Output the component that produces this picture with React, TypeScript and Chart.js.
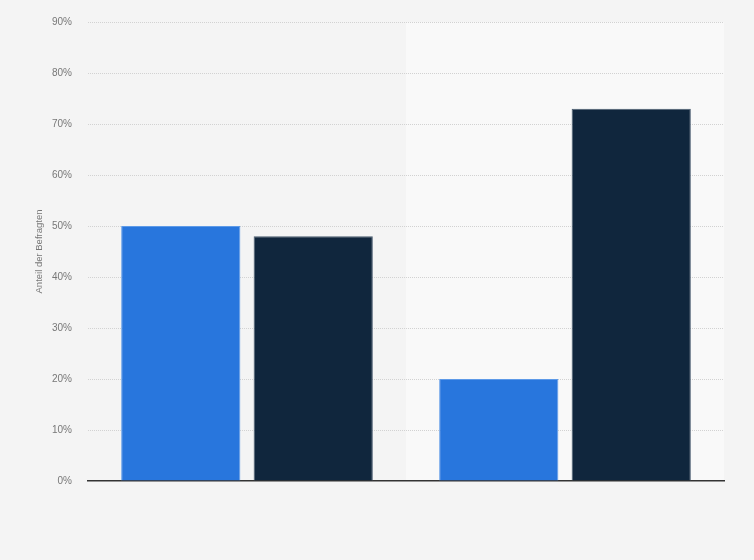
import { useEffect, useRef } from 'react';
import { Chart, ChartConfiguration, Plugin, registerables } from 'chart.js';

Chart.register(...registerables);

// Chart data
const categories = ['Gruppe A', 'Gruppe B'];
const seriesOne = [50, 20];
const seriesTwo = [48, 73];
const yTicks = [0, 10, 20, 30, 40, 50, 60, 70, 80, 90];

const FONT = '"Liberation Sans", Arial, sans-serif';

// page background + lighter band for the second category
const backgroundBands: Plugin<'bar'> = {
  id: 'backgroundBands',
  beforeDraw(chart) {
    const { ctx, chartArea, scales } = chart;
    ctx.save();
    ctx.fillStyle = '#f4f4f4';
    ctx.fillRect(0, 0, chart.width, chart.height);
    const x = scales.x;
    const mid = (x.getPixelForValue(0) + x.getPixelForValue(1)) / 2;
    ctx.fillStyle = '#f9f9f9';
    ctx.fillRect(mid, chartArea.top, chartArea.right - mid, chartArea.bottom - chartArea.top);
    ctx.restore();
  },
};

export default function App() {
  const canvasRef = useRef<HTMLCanvasElement>(null);
  const chartRef = useRef<Chart | null>(null);

  useEffect(() => {
    document.body.style.margin = '0';
    if (!canvasRef.current) return;
    if (chartRef.current) chartRef.current.destroy();

    const config: ChartConfiguration<'bar'> = {
      type: 'bar',
      data: {
        labels: categories,
        datasets: [
          {
            label: 'Serie 1',
            data: seriesOne,
            backgroundColor: '#2876dd',
            borderColor: '#5d9ae8',
            borderWidth: 1,
            categoryPercentage: 0.833,
            barPercentage: 0.9,
          },
          {
            label: 'Serie 2',
            data: seriesTwo,
            backgroundColor: '#10263d',
            borderColor: '#4a5c70',
            borderWidth: 1,
            categoryPercentage: 0.833,
            barPercentage: 0.9,
          },
        ],
      },
      options: {
        responsive: false,
        animation: false,
        layout: { padding: { left: 34, right: 30, top: 20, bottom: 79 } },
        plugins: {
          legend: { display: false },
          tooltip: { enabled: false },
        },
        scales: {
          x: {
            ticks: { display: false },
            grid: { display: false, drawTicks: false },
            border: { display: true, color: '#333333', width: 1.5 },
          },
          y: {
            min: 0,
            max: 90,
            afterBuildTicks(scale) {
              scale.ticks = yTicks.map((v) => ({ value: v }));
            },
            afterFit(scale) {
              scale.width = 54;
            },
            ticks: {
              padding: 16,
              color: '#777777',
              font: { family: FONT, size: 10 },
              callback: (v) => `${v}%`,
            },
            grid: {
              color: (c) => (c.tick && c.tick.value === 0 ? 'rgba(0,0,0,0)' : '#d2d2d2'),
              drawTicks: false,
              lineWidth: 1,
            },
            border: { display: false, dash: [1, 1] },
            title: {
              display: true,
              text: 'Anteil der Befragten',
              color: '#777777',
              font: { family: FONT, size: 9.5 },
              padding: { top: 0, bottom: 0 },
            },
          },
        },
      },
      plugins: [backgroundBands],
    };

    chartRef.current = new Chart(canvasRef.current, config);
    return () => {
      if (chartRef.current) {
        chartRef.current.destroy();
        chartRef.current = null;
      }
    };
  }, []);

  return (
    <div style={{ width: 754, height: 560 }}>
      <canvas ref={canvasRef} width={754} height={560}></canvas>
    </div>
  );
}
